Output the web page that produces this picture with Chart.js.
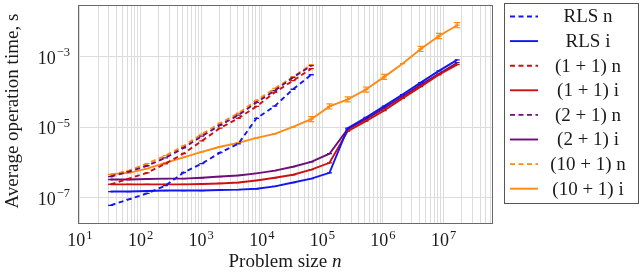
<!DOCTYPE html>
<html>
<head>
<meta charset="utf-8">
<script src="https://cdn.jsdelivr.net/npm/chart.js@4.4.1/dist/chart.umd.min.js"></script>
<style>
  html, body { margin: 0; padding: 0; background: #fff; }
</style>
</head>
<body>
<canvas id="chartArea" width="640" height="275"></canvas>
<script>
// problem sizes (powers of two)
const sizesN = [32, 64, 128, 256, 512, 1024, 2048, 4096, 8192, 16384, 32768, 65536];
const sizesI = [32, 64, 128, 256, 512, 1024, 2048, 4096, 8192, 16384, 32768, 65536,
  131072, 262144, 524288, 1048576, 2097152, 4194304, 8388608, 16777216];

// average operation time, seconds
const rlsN = [6.1e-8, 9.0e-8, 1.33e-7, 2.2e-7, 5.2e-7, 9.3e-7, 1.9e-6, 3.4e-6, 1.8e-5, 4.0e-5, 1.2e-4, 3.1e-4];
const rlsI = [1.5e-7, 1.5e-7, 1.55e-7, 1.6e-7, 1.6e-7, 1.6e-7, 1.66e-7, 1.7e-7, 1.8e-7, 2.1e-7, 2.7e-7, 3.5e-7,
  5.1e-7, 9.5e-6, 1.9e-5, 4.0e-5, 8.5e-5, 1.85e-4, 4.0e-4, 8.2e-4];
const onePlusOneN = [2.4e-7, 3.5e-7, 5.1e-7, 9.2e-7, 1.8e-6, 4.1e-6, 9.5e-6, 1.8e-5, 3.9e-5, 9.8e-5, 2.1e-4, 4.6e-4];
const onePlusOneI = [2.4e-7, 2.4e-7, 2.4e-7, 2.4e-7, 2.4e-7, 2.45e-7, 2.55e-7, 2.7e-7, 3.1e-7, 3.7e-7, 4.5e-7, 6.3e-7,
  9.8e-7, 7.8e-6, 1.5e-5, 3.0e-5, 6.6e-5, 1.43e-4, 3.1e-4, 6.0e-4];
const twoPlusOneN = [4.0e-7, 5.5e-7, 8.1e-7, 1.35e-6, 2.6e-6, 5.6e-6, 1.15e-5, 2.2e-5, 5.1e-5, 1.1e-4, 2.6e-4, 5.6e-4];
const twoPlusOneI = [3.3e-7, 3.3e-7, 3.4e-7, 3.5e-7, 3.5e-7, 3.7e-7, 4.0e-7, 4.3e-7, 4.9e-7, 5.9e-7, 7.6e-7, 1.04e-6,
  1.78e-6, 8.9e-6, 1.7e-5, 3.5e-5, 7.5e-5, 1.6e-4, 3.3e-4, 6.8e-4];
const tenPlusOneN = [4.5e-7, 5.9e-7, 9.3e-7, 1.56e-6, 2.95e-6, 6.4e-6, 1.3e-5, 2.5e-5, 5.8e-5, 1.26e-4, 2.7e-4, 6.0e-4];
const tenPlusOneI = [4.6e-7, 5.1e-7, 6.7e-7, 9.8e-7, 1.4e-6, 2.0e-6, 2.8e-6, 3.6e-6, 5.0e-6, 6.5e-6, 1.02e-5, 1.7e-5,
  3.9e-5, 6.2e-5, 1.18e-4, 2.7e-4, 6.4e-4, 1.67e-3, 3.9e-3, 7.9e-3];
// relative error bar half-size for (10+1) i
const tenPlusOneIErr = [0, 0, 0, 0, 0, 0, 0, 0, 0, 0, 0, 0.18, 0.18, 0.18, 0.18, 0.18, 0, 0.18, 0.18, 0.18];

const seriesLabels = ['RLS n', 'RLS i', '(1 + 1) n', '(1 + 1) i', '(2 + 1) n', '(2 + 1) i', '(10 + 1) n', '(10 + 1) i'];
const xTickExps = [1, 2, 3, 4, 5, 6, 7];
const yTickExps = [-7, -5, -3];

const BLUE = '#1515f2';
const RED = '#cc1111';
const PURPLE = '#6c0f78';
const ORANGE = '#ff8a12';
const FONT = '"Liberation Serif", "Times New Roman", serif';
const DASH = [5, 3.5];

function pts(xs, ys) {
  return ys.map((y, i) => ({ x: xs[i], y: y }));
}

function makeSet(label, xs, ys, color, dashed, err) {
  return {
    label: label,
    data: pts(xs, ys),
    borderColor: color,
    backgroundColor: color,
    borderWidth: 1.9,
    borderDash: dashed ? DASH : [],
    pointStyle: 'line',
    pointRadius: 2.5,
    pointBorderWidth: 1.3,
    pointBorderColor: color,
    tension: 0,
    fill: false,
    errors: err || null,
  };
}

// vertical grid at every 1..9 x 10^k, horizontal only at labelled decades
const xGrid = [];
for (let k = 0; k <= 7; k++) {
  for (let m = 1; m <= 9; m++) xGrid.push(m * Math.pow(10, k));
}

function drawPower(ctx, exp, x, y, align) {
  const base = '10';
  const sup = String(exp).replace('-', '\u2212');
  ctx.font = '18px ' + FONT;
  const wb = ctx.measureText(base).width;
  ctx.font = '12.5px ' + FONT;
  const ws = ctx.measureText(sup).width;
  let left = align === 'right' ? x - wb - ws - 1 : x - (wb + ws + 1) / 2;
  ctx.textAlign = 'left';
  ctx.textBaseline = 'alphabetic';
  ctx.font = '18px ' + FONT;
  ctx.fillText(base, left, y);
  ctx.font = '12.5px ' + FONT;
  ctx.fillText(sup, left + wb + 1, y - 7.5);
}

const decorPlugin = {
  id: 'decor',
  beforeDatasetsDraw(chart) {
    const { ctx, chartArea: a } = chart;
    ctx.save();
    ctx.strokeStyle = '#6a6a6a';
    ctx.lineWidth = 1;
    ctx.strokeRect(Math.round(a.left) + 0.5, Math.round(a.top) + 0.5,
      Math.round(a.right - a.left), Math.round(a.bottom - a.top));
    ctx.restore();
  },
  afterDatasetsDraw(chart) {
    const { ctx } = chart;
    const xs = chart.scales.x, ys = chart.scales.y;
    ctx.save();
    chart.data.datasets.forEach(ds => {
      if (!ds.errors) return;
      ctx.strokeStyle = ds.borderColor;
      ctx.lineWidth = 1.2;
      ds.data.forEach((p, i) => {
        const e = ds.errors[i];
        if (!e) return;
        const px = xs.getPixelForValue(p.x);
        const top = ys.getPixelForValue(p.y * (1 + e));
        const bot = ys.getPixelForValue(p.y / (1 + e));
        ctx.beginPath();
        ctx.moveTo(px, top); ctx.lineTo(px, bot);
        ctx.moveTo(px - 3, top); ctx.lineTo(px + 3, top);
        ctx.moveTo(px - 3, bot); ctx.lineTo(px + 3, bot);
        ctx.stroke();
      });
    });
    ctx.restore();
  },
  afterDraw(chart) {
    const { ctx, chartArea: a } = chart;
    const xs = chart.scales.x, ys = chart.scales.y;
    ctx.save();
    ctx.fillStyle = '#1a1a1a';

    xTickExps.forEach(e => drawPower(ctx, e, xs.getPixelForValue(Math.pow(10, e)), a.bottom + 23, 'center'));
    yTickExps.forEach(e => drawPower(ctx, e, a.left - 8, ys.getPixelForValue(Math.pow(10, e)) + 7, 'right'));

    // axis titles
    ctx.textBaseline = 'middle';
    ctx.font = '19px ' + FONT;
    const t1 = 'Problem size ';
    const w1 = ctx.measureText(t1).width;
    ctx.font = 'italic 19px ' + FONT;
    const w2 = ctx.measureText('n').width;
    const cx = (a.left + a.right) / 2;
    ctx.textAlign = 'left';
    ctx.font = '19px ' + FONT;
    ctx.fillText(t1, cx - (w1 + w2) / 2, 262);
    ctx.font = 'italic 19px ' + FONT;
    ctx.fillText('n', cx - (w1 + w2) / 2 + w1, 262);

    ctx.save();
    ctx.translate(13, (a.top + a.bottom) / 2 - 3);
    ctx.rotate(-Math.PI / 2);
    ctx.textAlign = 'center';
    ctx.font = '19px ' + FONT;
    ctx.fillText('Average operation time, s', 0, 0);
    ctx.restore();

    // legend box
    const lx = 504, ly = 3, lw = 134, lh = 200;
    ctx.strokeStyle = '#555';
    ctx.lineWidth = 1;
    ctx.strokeRect(lx + 0.5, ly + 0.5, lw, lh);
    chart.data.datasets.forEach((ds, i) => {
      const y = ly + 13.5 + i * 24.6;
      ctx.strokeStyle = ds.borderColor;
      ctx.lineWidth = 1.9;
      ctx.setLineDash(ds.borderDash);
      ctx.beginPath();
      ctx.moveTo(510, y); ctx.lineTo(538, y);
      ctx.stroke();
      ctx.setLineDash([]);
      ctx.fillStyle = '#1a1a1a';
      ctx.font = '19px ' + FONT;
      ctx.textAlign = 'center';
      ctx.textBaseline = 'middle';
      ctx.fillText(ds.label, 588, y + 1);
    });
    ctx.restore();
  }
};

const datasets = [
  makeSet(seriesLabels[0], sizesN, rlsN, BLUE, true),
  makeSet(seriesLabels[1], sizesI, rlsI, BLUE, false),
  makeSet(seriesLabels[2], sizesN, onePlusOneN, RED, true),
  makeSet(seriesLabels[3], sizesI, onePlusOneI, RED, false),
  makeSet(seriesLabels[4], sizesN, twoPlusOneN, PURPLE, true),
  makeSet(seriesLabels[5], sizesI, twoPlusOneI, PURPLE, false),
  makeSet(seriesLabels[6], sizesN, tenPlusOneN, ORANGE, true),
  makeSet(seriesLabels[7], sizesI, tenPlusOneI, ORANGE, false, tenPlusOneIErr),
];

const ctx = document.getElementById('chartArea');
const chart = new Chart(ctx, {
  type: 'line',
  data: { datasets: datasets },
  options: {
    responsive: false,
    animation: false,
    devicePixelRatio: 1,
    layout: { padding: { left: 78, right: 148, top: 3, bottom: 52 } },
    plugins: { legend: { display: false }, tooltip: { enabled: false } },
    scales: {
      x: {
        type: 'logarithmic',
        min: 9.27,
        max: 6.3e7,
        afterBuildTicks: s => { s.ticks = xGrid.filter(v => v >= s.min && v <= s.max).map(v => ({ value: v })); },
        ticks: { display: false },
        grid: { color: '#dcdcdc', lineWidth: 1, drawTicks: false },
        border: { display: false },
      },
      y: {
        type: 'logarithmic',
        min: 1.92e-8,
        max: 2.9e-2,
        afterBuildTicks: s => { s.ticks = yTickExps.map(e => ({ value: Math.pow(10, e) })); },
        ticks: { display: false },
        grid: { color: '#dcdcdc', lineWidth: 1, drawTicks: false },
        border: { display: false },
      },
    },
  },
  plugins: [decorPlugin],
});
</script>
</body>
</html>
